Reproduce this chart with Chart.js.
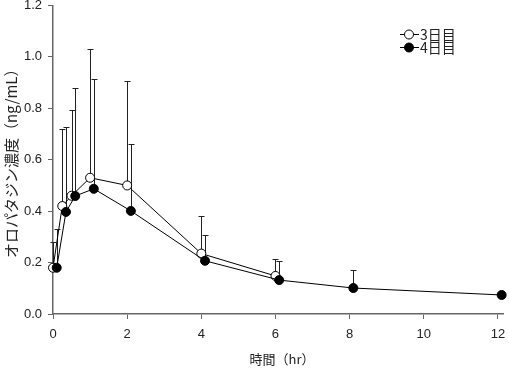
<!DOCTYPE html>
<html>
<head>
<meta charset="utf-8">
<script src="https://cdn.jsdelivr.net/npm/chart.js@4.4.1/dist/chart.umd.min.js"></script>
<style>
  html, body { margin: 0; padding: 0; background: #fff; }
  #wrap { width: 509px; height: 368px; }
</style>
</head>
<body>
<div id="wrap"><canvas id="chart" width="509" height="368"></canvas></div>
<script>
// data (mean + upper SD)
var day3Time = [0, 0.25, 0.5, 1, 2, 4, 6];
var day3Mean = [0.18, 0.42, 0.46, 0.53, 0.50, 0.235, 0.148];
var day3Sd   = [0.10, 0.30, 0.335, 0.50, 0.405, 0.147, 0.066];

var day4Time = [0.1, 0.35, 0.6, 1.1, 2.1, 4.1, 6.1, 8.1, 12.1];
var day4Mean = [0.18, 0.397, 0.459, 0.487, 0.401, 0.207, 0.132, 0.101, 0.074];
var day4Sd   = [0.15, 0.33, 0.42, 0.427, 0.26, 0.10, 0.073, 0.069, 0];

var seriesNames = ['3日目', '4日目'];
var xTicks = [0, 2, 4, 6, 8, 10, 12];
var yTicks = [0, 0.2, 0.4, 0.6, 0.8, 1.0, 1.2];
var xTitle = '時間（hr）';
var yTitle = 'オロパタジン濃度（ng/mL）';

var numFont = '"Liberation Sans", Arial, sans-serif';
var jpFont = '"Noto Sans CJK JP", sans-serif';
var axisColor = '#666';

function toPoints(xs, ys) {
    return xs.map(function (x, i) { return { x: x, y: ys[i] }; });
}

// vertical one-sided SD bars, drawn under the markers
var errorBars = {
    id: 'errorBars',
    beforeDatasetsDraw: function (chart) {
        var ctx = chart.ctx;
        var xs = chart.scales.x, ys = chart.scales.y;
        ctx.save();
        ctx.strokeStyle = '#222';
        ctx.lineWidth = 1;
        chart.data.datasets.forEach(function (ds) {
            ds.data.forEach(function (p, i) {
                var sd = ds.sd[i];
                if (!sd) return;
                var px = Math.round(xs.getPixelForValue(p.x)) + 0.5;
                var y0 = ys.getPixelForValue(p.y);
                var y1 = Math.round(ys.getPixelForValue(p.y + sd)) + 0.5;
                ctx.beginPath();
                ctx.moveTo(px, y0);
                ctx.lineTo(px, y1);
                ctx.moveTo(px - 3, y1);
                ctx.lineTo(px + 3, y1);
                ctx.stroke();
            });
        });
        ctx.restore();
    }
};

// axis titles and the small legend in the top right
var decorations = {
    id: 'decorations',
    afterDraw: function (chart) {
        var ctx = chart.ctx;
        var area = chart.chartArea;
        ctx.save();
        ctx.fillStyle = '#222';
        ctx.textAlign = 'center';
        ctx.textBaseline = 'middle';

        ctx.font = '13px ' + jpFont;
        ctx.fillText(xTitle, 282, 359);

        ctx.save();
        ctx.translate(11, (area.top + area.bottom) / 2);
        ctx.rotate(-Math.PI / 2);
        ctx.font = '15px ' + jpFont;
        ctx.fillText(yTitle, 0, 0);
        ctx.restore();

        var rows = [34, 47];
        chart.data.datasets.slice().sort(function (a, b) { return a.legendRow - b.legendRow; }).forEach(function (ds, k) {
            var y = rows[k];
            ctx.strokeStyle = '#000';
            ctx.lineWidth = 1;
            ctx.beginPath();
            ctx.moveTo(400, y + 0.5);
            ctx.lineTo(419, y + 0.5);
            ctx.stroke();
            ctx.beginPath();
            ctx.arc(409, y + 0.5, 4.5, 0, Math.PI * 2);
            ctx.fillStyle = ds.pointBackgroundColor;
            ctx.fill();
            ctx.stroke();
            ctx.fillStyle = '#222';
            ctx.textAlign = 'left';
            ctx.font = '14px ' + jpFont;
            ctx.fillText(ds.label, 420, y + 1);
        });
        ctx.restore();
    }
};

var ctx = document.getElementById('chart').getContext('2d');

var myChart = new Chart(ctx, {
    type: 'scatter',
    data: {
        datasets: [
            {
                label: seriesNames[0],
                legendRow: 0,
                data: toPoints(day3Time, day3Mean),
                sd: day3Sd,
                showLine: true,
                borderColor: '#000',
                borderWidth: 1,
                pointRadius: 4.5,
                pointBorderWidth: 1,
                pointBorderColor: '#000',
                pointBackgroundColor: '#fff',
                clip: false,
                order: 2
            },
            {
                label: seriesNames[1],
                legendRow: 1,
                data: toPoints(day4Time, day4Mean),
                sd: day4Sd,
                showLine: true,
                borderColor: '#000',
                borderWidth: 1,
                pointRadius: 4.5,
                pointBorderWidth: 1,
                pointBorderColor: '#000',
                pointBackgroundColor: '#000',
                clip: false,
                order: 1
            }
        ]
    },
    options: {
        responsive: false,
        animation: false,
        devicePixelRatio: 1,
        layout: {
            padding: { top: 5, right: 2, left: 0, bottom: 0 }
        },
        plugins: {
            legend: { display: false },
            tooltip: { enabled: false }
        },
        scales: {
            x: {
                type: 'linear',
                min: 0,
                max: 12.15,
                afterFit: function (scale) {
                    scale.height = 54;
                    scale.paddingLeft = 0;
                    scale.paddingRight = 0;
                },
                afterBuildTicks: function (scale) {
                    scale.ticks = xTicks.map(function (v) { return { value: v }; });
                },
                border: { display: true, color: axisColor, width: 1.5 },
                grid: {
                    drawOnChartArea: false,
                    drawTicks: true,
                    tickLength: 5,
                    color: axisColor
                },
                ticks: {
                    padding: 8,
                    color: '#222',
                    font: { family: numFont, size: 13 },
                    maxRotation: 0,
                    callback: function (v) { return v; }
                }
            },
            y: {
                type: 'linear',
                min: 0,
                max: 1.2,
                afterFit: function (scale) {
                    scale.width = 53;
                    scale.paddingTop = 0;
                    scale.paddingBottom = 0;
                },
                afterBuildTicks: function (scale) {
                    scale.ticks = yTicks.map(function (v) { return { value: v }; });
                },
                border: { display: true, color: axisColor, width: 1.5 },
                grid: {
                    drawOnChartArea: false,
                    drawTicks: true,
                    tickLength: 5,
                    color: axisColor
                },
                ticks: {
                    padding: 6,
                    color: '#222',
                    font: { family: numFont, size: 13 },
                    callback: function (v) { return v.toFixed(1); }
                }
            }
        }
    },
    plugins: [errorBars, decorations]
});
</script>
</body>
</html>
